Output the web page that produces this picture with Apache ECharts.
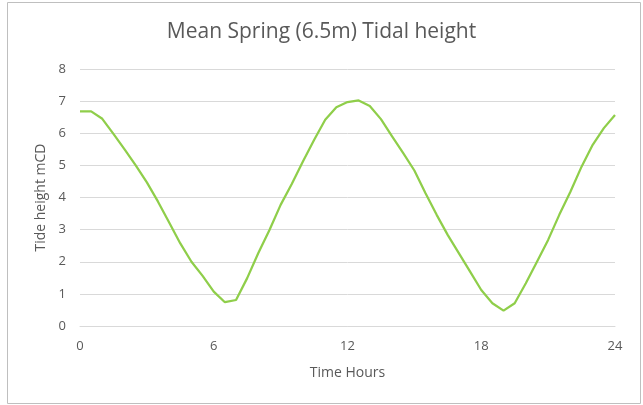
<!DOCTYPE html>
<html>
<head>
<meta charset="utf-8">
<script src="https://cdn.jsdelivr.net/npm/echarts@6/dist/echarts.min.js"></script>
<style>html,body{margin:0;padding:0;background:#fff}#c{width:643px;height:405px}</style>
</head>
<body>
<div id="c"></div>
<script>
const hours = [0,0.5,1,1.5,2,2.5,3,3.5,4,4.5,5,5.5,6,6.5,7,7.5,8,8.5,9,9.5,10,10.5,11,11.5,12,12.5,13,13.5,14,14.5,15,15.5,16,16.5,17,17.5,18,18.5,19,19.5,20,20.5,21,21.5,22,22.5,23,23.5,24];
const tide = [6.68,6.68,6.45,5.98,5.5,5.0,4.47,3.87,3.22,2.57,2.0,1.56,1.07,0.74,0.81,1.49,2.27,2.99,3.77,4.42,5.12,5.79,6.42,6.81,6.97,7.02,6.85,6.44,5.9,5.38,4.84,4.13,3.46,2.83,2.26,1.69,1.12,0.71,0.48,0.71,1.33,2.0,2.68,3.46,4.18,4.96,5.64,6.16,6.57];
const xTicks = [0,6,12,18,24];
const yTicks = [0,1,2,3,4,5,6,7,8];

const chart = echarts.init(document.getElementById('c'));
const font = '"Open Sans", "Noto Sans", sans-serif';
chart.setOption({
  animation: false,
  textStyle: {fontFamily: font},
  graphic: [{type:'rect', shape:{x:7.5,y:2.5,width:633,height:401}, style:{fill:'none', stroke:'#bfbfbf', lineWidth:1}}],
  title: {text:'Mean Spring (6.5m) Tidal height', left:'center', top:17,
    textStyle:{fontFamily:font, fontSize:21, fontWeight:'normal', color:'#595959'}},
  grid: {left:80, right:28, top:69, bottom:79},
  xAxis: {type:'value', min:xTicks[0], max:xTicks[xTicks.length-1], interval:6,
    name:'Time Hours', nameLocation:'middle', nameGap:40,
    nameTextStyle:{fontFamily:font, fontSize:14, color:'#595959'},
    axisLine:{lineStyle:{color:'#d9d9d9'}}, axisTick:{show:false},
    axisLabel:{fontFamily:font, fontSize:13, color:'#595959', margin:14},
    splitLine:{show:false}},
  yAxis: {type:'value', min:yTicks[0], max:yTicks[yTicks.length-1], interval:1,
    name:'Tide height mCD', nameLocation:'middle', nameGap:32,
    nameTextStyle:{fontFamily:font, fontSize:14, color:'#595959'},
    axisLine:{show:false}, axisTick:{show:false},
    axisLabel:{fontFamily:font, fontSize:13, color:'#595959', margin:14},
    splitLine:{lineStyle:{color:'#d9d9d9'}}},
  series: [{type:'line', data: hours.map((h,i)=>[h, tide[i]]), showSymbol:false,
    lineStyle:{color:'#8fce4a', width:2.25}, itemStyle:{color:'#8fce4a'}}]
});
</script>
</body>
</html>
